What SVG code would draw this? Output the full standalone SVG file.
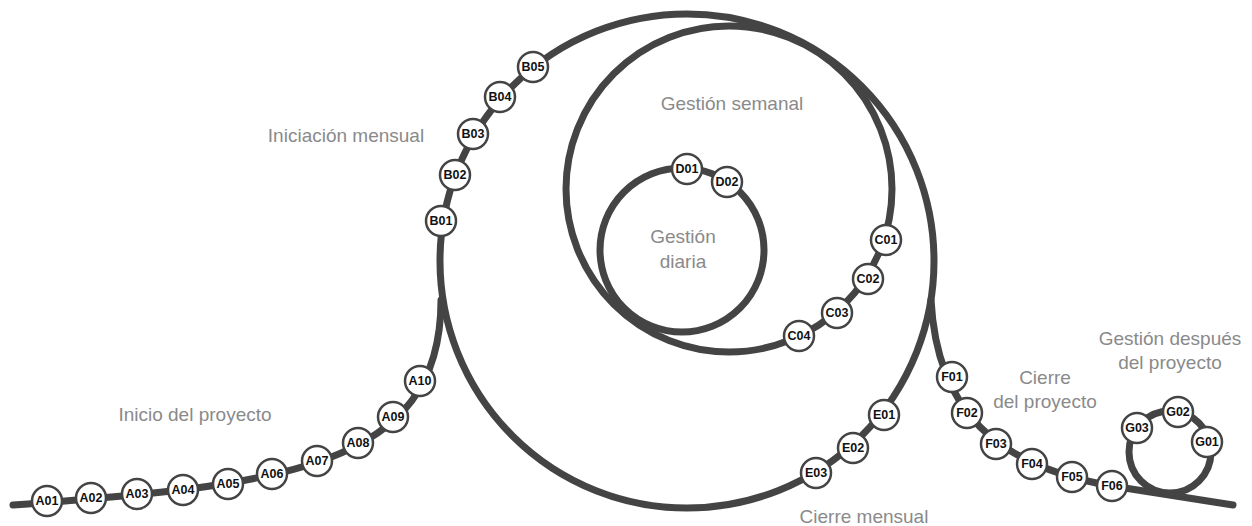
<svg xmlns="http://www.w3.org/2000/svg" width="1252" height="526" viewBox="0 0 1252 526">
<style>
.ln{fill:none;stroke:#444;stroke-width:7;stroke-linecap:round}
.nd circle{fill:#fff;stroke:#444;stroke-width:2.5}
.nd text{font-family:"Liberation Sans",Arial,sans-serif;font-weight:bold;font-size:12.5px;fill:#111;text-anchor:middle;dominant-baseline:central}
.lb{font-family:"Liberation Sans",Arial,sans-serif;font-size:19px;fill:#8a8a8a;text-anchor:middle}
</style>
<rect width="1252" height="526" fill="#fff"/>
<g id="connectors">
<circle class="ln" cx="687" cy="261" r="247"/>
<circle class="ln" cx="729" cy="189" r="163"/>
<circle class="ln" cx="682" cy="250" r="82"/>
<circle class="ln" cx="1170" cy="452" r="41"/>
<path class="ln" d="M13,505 C280,485 441,470 441,300"/>
<path class="ln" d="M931,300 C937,410 995,466 1112,486 L1233,505"/>
</g>
<g id="labels">
<text class="lb" x="195" y="421">Inicio del proyecto</text>
<text class="lb" x="346" y="142">Iniciación mensual</text>
<text class="lb" x="732" y="110">Gestión semanal</text>
<text class="lb" x="683" y="243">Gestión</text>
<text class="lb" x="683" y="268">diaria</text>
<text class="lb" x="864" y="523">Cierre mensual</text>
<text class="lb" x="1045" y="384">Cierre</text>
<text class="lb" x="1045" y="408">del proyecto</text>
<text class="lb" x="1170" y="345">Gestión después</text>
<text class="lb" x="1170" y="369">del proyecto</text>
</g>
<g id="A01" class="nd"><circle cx="47" cy="501" r="15"/><text x="47" y="501">A01</text></g>
<g id="A02" class="nd"><circle cx="91" cy="498" r="15"/><text x="91" y="498">A02</text></g>
<g id="A03" class="nd"><circle cx="137" cy="494" r="15"/><text x="137" y="494">A03</text></g>
<g id="A04" class="nd"><circle cx="183" cy="490" r="15"/><text x="183" y="490">A04</text></g>
<g id="A05" class="nd"><circle cx="228" cy="484" r="15"/><text x="228" y="484">A05</text></g>
<g id="A06" class="nd"><circle cx="272" cy="474" r="15"/><text x="272" y="474">A06</text></g>
<g id="A07" class="nd"><circle cx="317" cy="461" r="15"/><text x="317" y="461">A07</text></g>
<g id="A08" class="nd"><circle cx="358" cy="443" r="15"/><text x="358" y="443">A08</text></g>
<g id="A09" class="nd"><circle cx="393" cy="417" r="15"/><text x="393" y="417">A09</text></g>
<g id="A10" class="nd"><circle cx="420" cy="381" r="15"/><text x="420" y="381">A10</text></g>
<g id="B01" class="nd"><circle cx="441" cy="221" r="15"/><text x="441" y="221">B01</text></g>
<g id="B02" class="nd"><circle cx="455" cy="175" r="15"/><text x="455" y="175">B02</text></g>
<g id="B03" class="nd"><circle cx="473" cy="134" r="15"/><text x="473" y="134">B03</text></g>
<g id="B04" class="nd"><circle cx="500" cy="97" r="15"/><text x="500" y="97">B04</text></g>
<g id="B05" class="nd"><circle cx="533" cy="67" r="15"/><text x="533" y="67">B05</text></g>
<g id="C01" class="nd"><circle cx="886" cy="240" r="15"/><text x="886" y="240">C01</text></g>
<g id="C02" class="nd"><circle cx="868" cy="279" r="15"/><text x="868" y="279">C02</text></g>
<g id="C03" class="nd"><circle cx="837" cy="313" r="15"/><text x="837" y="313">C03</text></g>
<g id="C04" class="nd"><circle cx="799" cy="336" r="15"/><text x="799" y="336">C04</text></g>
<g id="D01" class="nd"><circle cx="687" cy="169" r="15"/><text x="687" y="169">D01</text></g>
<g id="D02" class="nd"><circle cx="727" cy="182" r="15"/><text x="727" y="182">D02</text></g>
<g id="E01" class="nd"><circle cx="884" cy="415" r="15"/><text x="884" y="415">E01</text></g>
<g id="E02" class="nd"><circle cx="853" cy="448" r="15"/><text x="853" y="448">E02</text></g>
<g id="E03" class="nd"><circle cx="816" cy="473" r="15"/><text x="816" y="473">E03</text></g>
<g id="F01" class="nd"><circle cx="952" cy="377" r="15"/><text x="952" y="377">F01</text></g>
<g id="F02" class="nd"><circle cx="967" cy="413" r="15"/><text x="967" y="413">F02</text></g>
<g id="F03" class="nd"><circle cx="996" cy="444" r="15"/><text x="996" y="444">F03</text></g>
<g id="F04" class="nd"><circle cx="1032" cy="464" r="15"/><text x="1032" y="464">F04</text></g>
<g id="F05" class="nd"><circle cx="1072" cy="477" r="15"/><text x="1072" y="477">F05</text></g>
<g id="F06" class="nd"><circle cx="1112" cy="486" r="15"/><text x="1112" y="486">F06</text></g>
<g id="G01" class="nd"><circle cx="1207" cy="442" r="15"/><text x="1207" y="442">G01</text></g>
<g id="G02" class="nd"><circle cx="1178" cy="412" r="15"/><text x="1178" y="412">G02</text></g>
<g id="G03" class="nd"><circle cx="1137" cy="428" r="15"/><text x="1137" y="428">G03</text></g>
</svg>
